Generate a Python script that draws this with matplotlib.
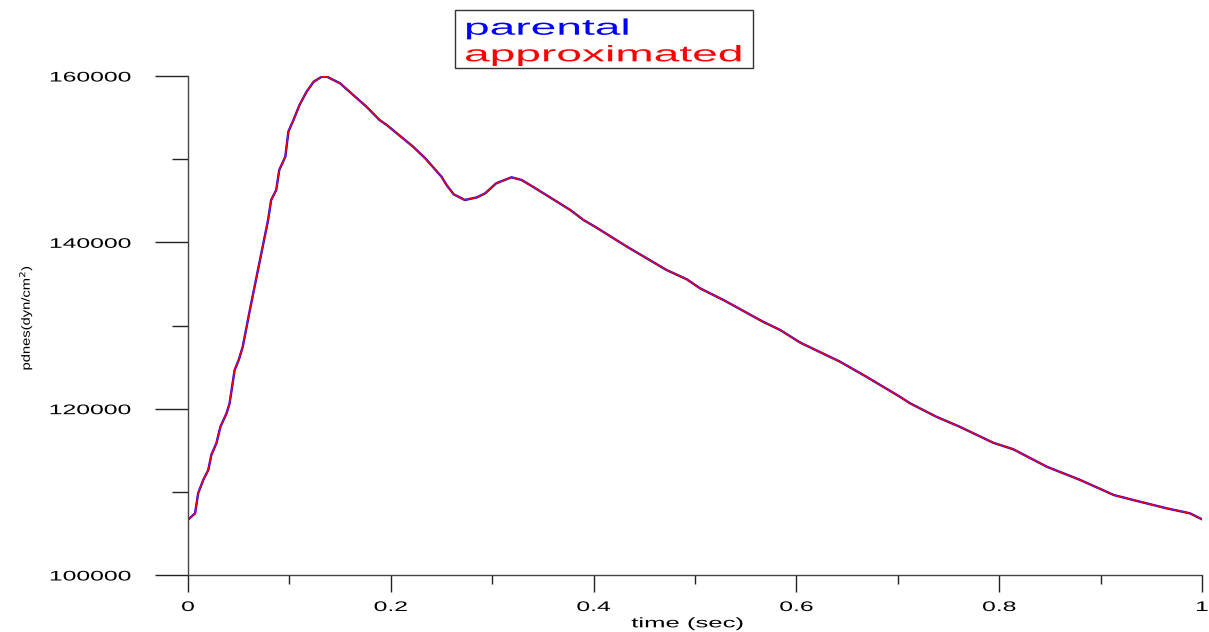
import matplotlib
matplotlib.use("Agg")
import matplotlib.pyplot as plt
from matplotlib.patheffects import AbstractPathEffect
from matplotlib.transforms import Affine2D
from matplotlib.patches import Rectangle
from matplotlib.ticker import FixedLocator, FuncFormatter

# ---------------- data ----------------
time_sec = [0.000, 0.007, 0.010, 0.015, 0.020, 0.023, 0.028, 0.032, 0.038, 0.041,
            0.046, 0.050, 0.054, 0.061, 0.071, 0.079, 0.082, 0.087, 0.090, 0.096,
            0.099, 0.104, 0.110, 0.117, 0.124, 0.132, 0.137, 0.150, 0.163, 0.176,
            0.189, 0.196, 0.222, 0.234, 0.250, 0.255, 0.262, 0.273, 0.285, 0.293,
            0.304, 0.319, 0.329, 0.341, 0.357, 0.377, 0.390, 0.403, 0.433, 0.472,
            0.492, 0.505, 0.528, 0.567, 0.584, 0.604, 0.643, 0.669, 0.702, 0.712,
            0.738, 0.761, 0.794, 0.814, 0.847, 0.880, 0.913, 0.932, 0.965, 0.988,
            1.000]
parental = [106650, 107420, 109820, 111420, 112620, 114430, 115840, 117830, 119440, 120640,
            124650, 125850, 127450, 131860, 137880, 142690, 145090, 146290, 148700, 150300,
            153310, 154710, 156520, 158120, 159320, 159920, 159920, 159120, 157710, 156310,
            154700, 154108, 151500, 150100, 147890, 146890, 145780, 145090, 145410, 145890,
            147100, 147820, 147500, 146620, 145410, 143890, 142690, 141760, 139470, 136670,
            135550, 134470, 133070, 130460, 129460, 127930, 125650, 123840, 121440, 120650,
            119030, 117830, 115910, 115110, 113020, 111420, 109620, 109020, 108020, 107420,
            106700]
approximated = list(parental)

x_major = [0, 0.2, 0.4, 0.6, 0.8, 1.0]
x_minor = [0.1, 0.3, 0.5, 0.7, 0.9]
x_ticklabels = ["0", "0.2", "0.4", "0.6", "0.8", "1"]
y_major = [100000, 120000, 140000, 160000]
y_minor = [110000, 130000, 150000]
y_ticklabels = ["100000", "120000", "140000", "160000"]
series_names = ["parental", "approximated"]
series_colors = ["#0000ff", "#ff0000"]


# ---------------- helper: stretched glyphs ----------------
class Stretch(AbstractPathEffect):
    """Scale the glyph path of a text (text-local coordinates)."""
    def __init__(self, sx=1.0, sy=1.0, anchor="center"):
        super().__init__()
        self.sx, self.sy, self.anchor = sx, sy, anchor

    def draw_path(self, renderer, gc, tpath, affine, rgbFace=None):
        ext = tpath.get_extents()
        if self.anchor == "left":
            cx = 0.0
        elif self.anchor == "right":
            cx = ext.x1
        else:
            cx = (ext.x0 + ext.x1) / 2
        cy = (ext.y0 + ext.y1) / 2
        t = (Affine2D().translate(-cx, -cy).scale(self.sx, self.sy)
             .translate(cx, cy) + affine)
        renderer.draw_path(gc, tpath, t, rgbFace)


plt.rcParams["font.family"] = ["Liberation Sans", "DejaVu Sans"]

W, H, DPI = 1209, 632, 100
fig = plt.figure(figsize=(W / DPI, H / DPI), dpi=DPI)
ax_left, ax_right, ax_top, ax_bottom = 188, 1202, 76, 575
ax = fig.add_axes([ax_left / W, 1 - ax_bottom / H,
                   (ax_right - ax_left) / W, (ax_bottom - ax_top) / H])

ax.plot(time_sec, parental, color=series_colors[0], lw=1.7,
        label=series_names[0], solid_joinstyle="round")
ax.plot(time_sec, approximated, color=series_colors[1], lw=1.0,
        label=series_names[1], solid_joinstyle="round")

ax.set_xlim(0, 1)
ax.set_ylim(100000, 160000)
for s in ("top", "right"):
    ax.spines[s].set_visible(False)
for s in ("left", "bottom"):
    ax.spines[s].set_color("#444444")
    ax.spines[s].set_linewidth(1.0)

ax.xaxis.set_major_locator(FixedLocator(x_major))
ax.xaxis.set_minor_locator(FixedLocator(x_minor))
ax.xaxis.set_major_formatter(FuncFormatter(lambda v, p: x_ticklabels[p] if p is not None and p < len(x_ticklabels) else ""))
ax.yaxis.set_major_locator(FixedLocator(y_major))
ax.yaxis.set_minor_locator(FixedLocator(y_minor))
ax.yaxis.set_major_formatter(FuncFormatter(lambda v, p: y_ticklabels[p] if p is not None and p < len(y_ticklabels) else ""))

px2pt = 72 / DPI
ax.tick_params(axis="x", which="major", direction="out", length=17 * px2pt,
               width=1, color="#222222", pad=8 * px2pt, labelsize=10)
ax.tick_params(axis="x", which="minor", direction="out", length=9 * px2pt,
               width=1, color="#222222")
ax.tick_params(axis="y", which="major", direction="out", length=33 * px2pt,
               width=1, color="#222222", pad=24 * px2pt, labelsize=10)
ax.tick_params(axis="y", which="minor", direction="out", length=16 * px2pt,
               width=1, color="#222222")

for lbl in ax.get_xticklabels():
    lbl.set_path_effects([Stretch(sx=1.78, anchor="center")])
for lbl in ax.get_yticklabels():
    lbl.set_path_effects([Stretch(sx=1.78, anchor="right")])

xl = ax.set_xlabel("time (sec)", fontsize=10, va="baseline")
ax.xaxis.set_label_coords((687.5 - ax_left) / (ax_right - ax_left),
                          (ax_bottom - 627.3) / (ax_bottom - ax_top))
xl.set_path_effects([Stretch(sx=1.85, anchor="center")])

yl = ax.set_ylabel("pdnes(dyn/cm$^2$)", fontsize=10.6, va="center")
ax.yaxis.set_label_coords((25 - ax_left) / (ax_right - ax_left),
                          (ax_bottom - 317.5) / (ax_bottom - ax_top))
yl.set_path_effects([Stretch(sy=0.8, anchor="center")])

# legend box drawn by hand (text only, coloured entries)
box_l, box_r, box_t, box_b = 454.5, 752.5, 10, 68
fig.add_artist(Rectangle((box_l / W, 1 - box_b / H), (box_r - box_l) / W,
                         (box_b - box_t) / H, transform=fig.transFigure,
                         fill=False, edgecolor="#333333", lw=1.0))
baselines = [34.7, 61.3]
for name, col, by in zip(series_names, series_colors, baselines):
    t = fig.text(464 / W, 1 - by / H, name, color=col, fontsize=16.2,
                 ha="left", va="baseline")
    t.set_path_effects([Stretch(sx=2.05, anchor="left")])

fig.savefig("out.png", dpi=DPI, facecolor="white")
